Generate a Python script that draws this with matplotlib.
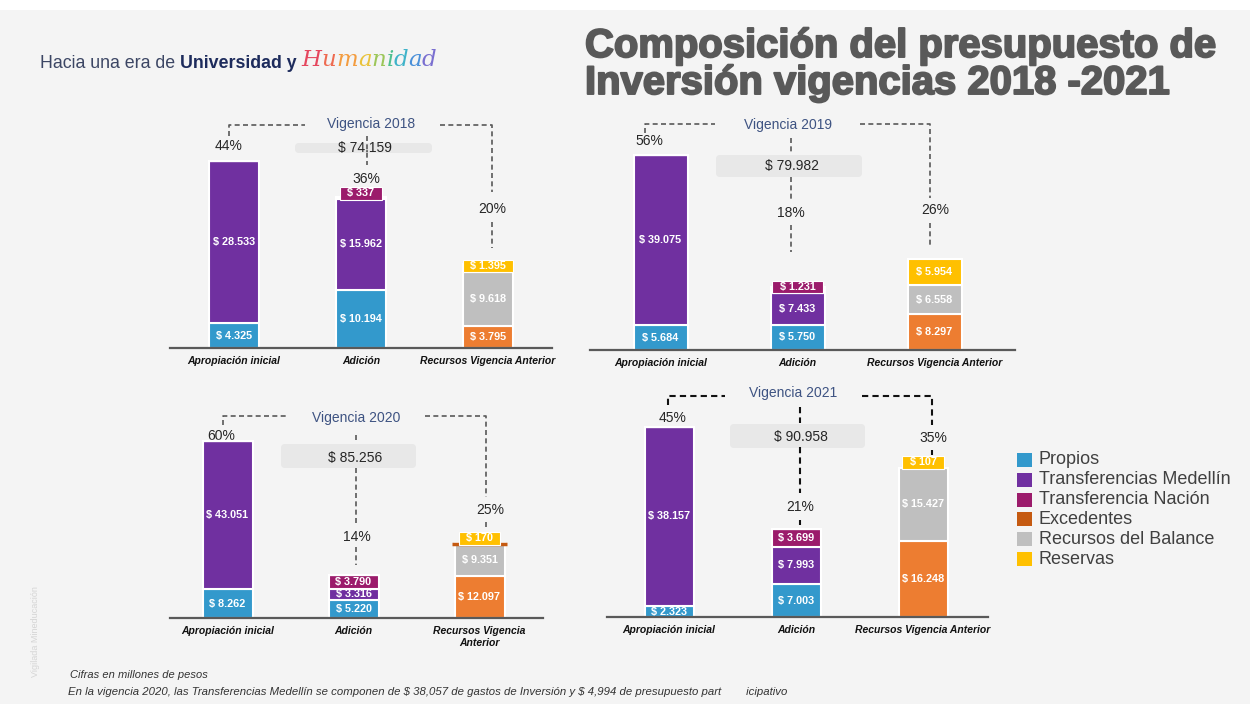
import matplotlib
matplotlib.use('Agg')
import matplotlib.pyplot as plt
from matplotlib.patches import Rectangle, FancyBboxPatch
import matplotlib.patheffects as pe
import numpy as np

# cifras en millones de pesos
categorias = ['Apropiación inicial', 'Adición', 'Recursos Vigencia Anterior']
fuentes = ['Propios', 'Transferencias Medellín', 'Transferencia Nación',
           'Excedentes', 'Recursos del Balance', 'Reservas']

propios_2018 = [4325, 10194, 0]
medellin_2018 = [28533, 15962, 0]
nacion_2018 = [0, 337, 0]
excedentes_2018 = [0, 0, 3795]
balance_2018 = [0, 0, 9618]
reservas_2018 = [0, 0, 1395]
pct_2018 = ['44%', '36%', '20%']
total_2018 = '$ 74.159'

propios_2019 = [5684, 5750, 0]
medellin_2019 = [39075, 7433, 0]
nacion_2019 = [0, 1231, 0]
excedentes_2019 = [0, 0, 8297]
balance_2019 = [0, 0, 6558]
reservas_2019 = [0, 0, 5954]
pct_2019 = ['56%', '18%', '26%']
total_2019 = '$ 79.982'

propios_2020 = [8262, 5220, 0]
medellin_2020 = [43051, 3316, 0]
nacion_2020 = [0, 3790, 0]
excedentes_2020 = [0, 0, 12097]
balance_2020 = [0, 0, 9351]
reservas_2020 = [0, 0, 170]
pct_2020 = ['60%', '14%', '25%']
total_2020 = '$ 85.256'

propios_2021 = [2323, 7003, 0]
medellin_2021 = [38157, 7993, 0]
nacion_2021 = [0, 3699, 0]
excedentes_2021 = [0, 0, 16248]
balance_2021 = [0, 0, 15427]
reservas_2021 = [0, 0, 107]
pct_2021 = ['45%', '21%', '35%']
total_2021 = '$ 90.958'

colores = ['#3399CC', '#7030A0', '#9B1B6B', '#ED7D31', '#BFBFBF', '#FFC000']
colores_ley = ['#3399CC', '#7030A0', '#9B1B6B', '#C55A11', '#BFBFBF', '#FFC000']

W, H = 1250, 704
FONT = 'Liberation Sans'
plt.rcParams['font.family'] = [FONT, 'DejaVu Sans']

fig = plt.figure(figsize=(12.5, 7.04), dpi=100)
fig.patch.set_facecolor('white')

# capa de fondo en coordenadas de pixel
bg = fig.add_axes([0, 0, 1, 1], zorder=0)
bg.set_xlim(0, W)
bg.set_ylim(H, 0)
bg.axis('off')
bg.add_patch(Rectangle((0, 10), W, H - 10, fc='#F4F4F4', ec='none'))

# encabezado
r = fig.canvas.get_renderer()
t = bg.text(40, 63, 'Hacia una era de ', fontsize=12.8, color='#3C4664', va='center')
x = t.get_window_extent(r).x1
t = bg.text(x, 63, 'Universidad y ', fontsize=12.8, color='#1D2B5C', fontweight='bold', va='center')
x = t.get_window_extent(r).x1
arcoiris = ['#E5475E', '#EE6A50', '#F39C3F', '#E9C23A', '#9CC659', '#4FBF8F', '#3FB3C9', '#4A90D9', '#7A6FD0']
for ch, c in zip('Humanidad', arcoiris):
    t = bg.text(x, 60, ch, fontsize=16.5, color=c, family='DejaVu Serif', fontstyle='italic',
                fontweight='light', va='center')
    x = t.get_window_extent(r).x1

# titulo
for y, linea in [(46, 'Composición del presupuesto de'), (83, 'Inversión vigencias 2018 -2021')]:
    bg.text(585, y, linea, fontsize=28.8, fontweight='bold', color='#595959', va='center',
            path_effects=[pe.withStroke(linewidth=1.4, foreground='#595959')])

# especificaciones de cada panel (posiciones en pixeles)
paneles = [
    dict(anio=2018, series=[propios_2018, medellin_2018, nacion_2018, excedentes_2018, balance_2018, reservas_2018],
         pct=pct_2018, total=total_2018, cats=categorias,
         x0=170, x1=552, base=348, c0=234, dx=127, w=50, esc=0.0057,
         vig=(371, 124), pct_xy=[(229, 146), (366, 179), (492, 209)], tot_xy=(365, 148),
         caja=(295, 143, 432, 153), lc='#595959',
         rayas=[[(229, 136), (229, 125), (305, 125)], [(440, 125), (492, 125), (492, 192)],
                [(492, 222), (492, 248)], [(367, 136), (367, 165)]]),
    dict(anio=2019, series=[propios_2019, medellin_2019, nacion_2019, excedentes_2019, balance_2019, reservas_2019],
         pct=pct_2019, total=total_2019, cats=categorias,
         x0=590, x1=1015, base=350, c0=660.5, dx=137, w=54, esc=0.00435,
         vig=(788, 125), pct_xy=[(649, 141), (791, 213), (935, 210)], tot_xy=(792, 166),
         caja=(716, 155, 862, 177), lc='#595959',
         rayas=[[(645, 133), (645, 124), (715, 124)], [(860, 124), (930, 124), (930, 198)],
                [(930, 223), (930, 247)], [(791, 138), (791, 153)], [(791, 177), (791, 202)],
                [(791, 225), (791, 252)]]),
    dict(anio=2020, series=[propios_2020, medellin_2020, nacion_2020, excedentes_2020, balance_2020, reservas_2020],
         pct=pct_2020, total=total_2020,
         cats=['Apropiación inicial', 'Adición', 'Recursos Vigencia\nAnterior'],
         x0=170, x1=543, base=618, c0=227.5, dx=126, w=50, esc=0.00345,
         vig=(356, 418), pct_xy=[(221, 436), (357, 537), (490, 510)], tot_xy=(355, 458),
         caja=(281, 444, 416, 468), lc='#595959',
         rayas=[[(223, 425), (223, 416), (288, 416)], [(425, 416), (486, 416), (486, 497)],
                [(486, 522), (486, 528)], [(356, 435), (356, 443)], [(356, 468), (356, 523)],
                [(356, 547), (356, 565)]]),
    dict(anio=2021, series=[propios_2021, medellin_2021, nacion_2021, excedentes_2021, balance_2021, reservas_2021],
         pct=pct_2021, total=total_2021, cats=categorias,
         x0=607, x1=988, base=617, c0=669, dx=127, w=49, esc=0.0047,
         vig=(793, 393), pct_xy=[(673, 418), (800, 507), (933, 438)], tot_xy=(801, 437),
         caja=(730, 424, 865, 448), lc='#111111',
         rayas=[[(668, 405), (668, 396), (725, 396)], [(862, 396), (932, 396), (932, 425)],
                [(932, 450), (932, 455)], [(800, 407), (800, 423)], [(800, 447), (800, 493)],
                [(800, 520), (800, 525)]]),
]

for p in paneles:
    # decoraciones
    cx0, cy0, cx1, cy1 = p['caja']
    bg.add_patch(FancyBboxPatch((cx0, cy0), cx1 - cx0, cy1 - cy0, boxstyle='round,pad=0,rounding_size=4',
                                fc='#E8E8E8', ec='none'))
    bg.text(*p['vig'], f"Vigencia {p['anio']}", fontsize=10, color='#3E5382', ha='center', va='center')
    bg.text(*p['tot_xy'], p['total'], fontsize=10, color='#262626', ha='center', va='center')
    for txt, xy in zip(p['pct'], p['pct_xy']):
        bg.text(*xy, txt, fontsize=10, color='#262626', ha='center', va='center')
    lw = 1.5 if p['anio'] == 2021 else 1.2
    for seg in p['rayas']:
        xs, ys = zip(*seg)
        bg.plot(xs, ys, color=p['lc'], lw=lw, dashes=(3, 2))

    # barras
    hgt = 230
    ax = fig.add_axes([p['x0'] / W, (H - p['base']) / H, (p['x1'] - p['x0']) / W, hgt / H], zorder=2)
    ax.patch.set_visible(False)
    ax.set_xlim((p['x0'] - p['c0']) / p['dx'], (p['x1'] - p['c0']) / p['dx'])
    ax.set_ylim(0, hgt / p['esc'])
    ancho = p['w'] / p['dx']
    xpos = np.arange(3)
    abajo = np.zeros(3)
    for k, vals in enumerate(p['series']):
        vals = np.array(vals, dtype=float)
        ax.bar(xpos, vals, ancho, bottom=abajo, color=colores[k], edgecolor='white', linewidth=1.5)
        for i, v in enumerate(vals):
            if v == 0:
                continue
            lab = '$ ' + f'{int(v):,}'.replace(',', '.')
            if v * p['esc'] < 10:
                ax.annotate('  ' + lab + '  ', (xpos[i], abajo[i]), xytext=(0, 0.5),
                            textcoords='offset points', ha='center', va='bottom',
                            color='white', fontsize=7.8, fontweight='bold',
                            bbox=dict(boxstyle='square,pad=0.12', fc=colores[k], ec='white', lw=0.8),
                            annotation_clip=False)
            else:
                ax.text(xpos[i], abajo[i] + v / 2, lab, ha='center', va='center',
                        color='white', fontsize=7.8, fontweight='bold')
        abajo += vals
    if p['anio'] == 2020:
        yl = sum(v[2] for v in p['series'][3:5])
        ax.plot([2 - ancho * 0.55, 2 + ancho * 0.55], [yl, yl], color='#C55A11', lw=2.5, solid_capstyle='butt')
    for s in ['top', 'right', 'left']:
        ax.spines[s].set_visible(False)
    ax.spines['bottom'].set_color('#595959')
    ax.spines['bottom'].set_linewidth(1.6)
    ax.set_yticks([])
    ax.set_xticks(xpos)
    ax.set_xticklabels(p['cats'], fontsize=7.5, fontweight='bold', fontstyle='italic', color='#111111')
    ax.tick_params(axis='x', length=0, pad=6)

# leyenda
for k, (nombre, c) in enumerate(zip(fuentes, colores_ley)):
    y = 460 + k * 19.8
    bg.add_patch(Rectangle((1017, y - 7), 15, 14, fc=c, ec='none'))
    bg.text(1039, y, nombre, fontsize=13, color='#404040', va='center')

# notas
bg.text(70, 675, 'Cifras en millones de pesos', fontsize=8, fontstyle='italic', color='#333333', va='center')
bg.text(68, 692, r'En la vigencia 2020, las Transferencias Medellín se componen de \$ 38,057 de gastos de '
        r'Inversión y \$ 4,994 de presupuesto part        icipativo',
        fontsize=8.2, fontstyle='italic', color='#333333', va='center')
bg.text(36, 632, 'Vigilada Mineducación', fontsize=6.5, color='#D5D5D5', rotation=90, ha='center', va='center')

fig.savefig('out.png', dpi=100, facecolor=fig.get_facecolor())
